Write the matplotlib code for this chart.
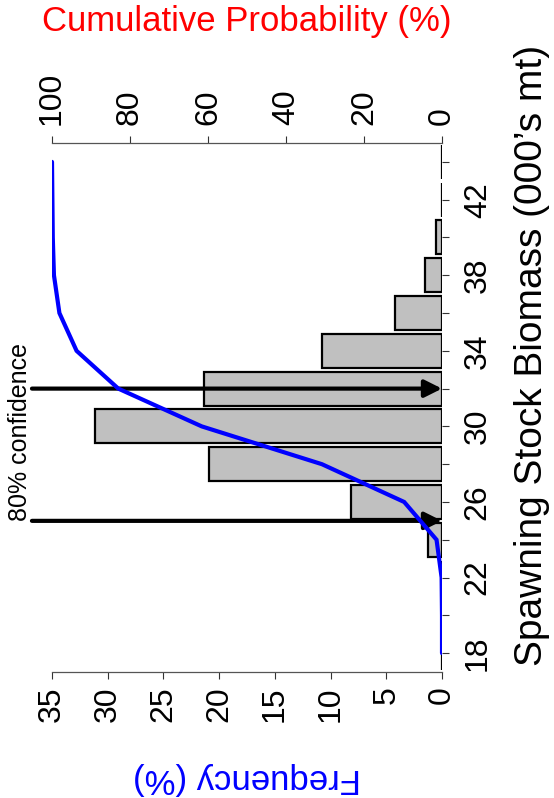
import matplotlib
matplotlib.use("Agg")
import matplotlib.pyplot as plt

plt.rcParams['font.family'] = ['Liberation Sans', 'DejaVu Sans']

# Spawning stock biomass classes (000's mt)
biomass = [18, 20, 22, 24, 26, 28, 30, 32, 34, 36, 38, 40, 42, 44]
# Frequency of each biomass class (%)
frequency = [0, 0, 0, 1.3, 8.2, 20.9, 31.1, 21.4, 10.8, 4.2, 1.5, 0.5, 0, 0]
# Cumulative probability at each class (%)
cumulative = [0, 0, 0.1, 1.4, 9.7, 30.8, 61.6, 83.0, 93.7, 98.1, 99.5, 99.8, 99.9, 100]
# 80% confidence bounds
conf_bounds = [25, 32]

freq_ticks = [0, 5, 10, 15, 20, 25, 30, 35]
cum_ticks = [0, 20, 40, 60, 80, 100]
biomass_labelled = [18, 22, 26, 30, 34, 38, 42]
biomass_minor = [20, 24, 28, 32, 36, 40, 44]

W, H = 554, 798
fig = plt.figure(figsize=(W / 100, H / 100), dpi=100)
left, right, top, bottom = 52, 442, 143, 672
ax = fig.add_axes([left / W, 1 - bottom / H, (right - left) / W, (bottom - top) / H])

ax.barh(biomass, frequency, height=1.8, color='#c0c0c0', edgecolor='black',
        linewidth=1.6, zorder=2)
ax.set_xlim(35, 0)
ax.set_ylim(17, 45)

tick_fs = 23
ax.set_xticks(freq_ticks)
ax.set_xticklabels([str(t) for t in freq_ticks], rotation=90, fontsize=tick_fs)
ax.tick_params(axis='x', direction='out', length=5, width=0.8, pad=5.5,
               color='#333333')

ax.yaxis.tick_right()
ax.set_yticks(biomass_labelled)
ax.set_yticks(biomass_minor, minor=True)
ax.set_yticklabels([str(t) for t in biomass_labelled], rotation=90,
                   fontsize=tick_fs, va='center')
ax.tick_params(axis='y', which='both', direction='out', length=5, width=0.8,
               pad=10, color='#333333')

for side in ['left', 'right', 'top']:
    ax.spines[side].set_visible(False)
ax.spines['bottom'].set_color('#555555')
ax.spines['bottom'].set_linewidth(0.9)

# Confidence arrows
for yb in conf_bounds:
    ax.annotate('', xy=(0, yb), xytext=(36.8, yb), xycoords='data',
                textcoords='data', annotation_clip=False,
                arrowprops=dict(arrowstyle='-|>', color='black', lw=3,
                                mutation_scale=26, shrinkA=0, shrinkB=0),
                zorder=3)
ax.text(37.9, conf_bounds[0], '80% confidence', rotation=90, ha='center',
        va='bottom', fontsize=18, clip_on=False)

# Cumulative probability on the twin axis
ax2 = ax.twiny()
ax2.plot(cumulative, biomass, color='blue', lw=3, solid_capstyle='round',
         solid_joinstyle='miter', zorder=4)
ax2.set_xlim(100, 0)
ax2.set_xticks(cum_ticks)
ax2.set_xticklabels([str(t) for t in cum_ticks], rotation=90, fontsize=tick_fs)
ax2.tick_params(axis='x', direction='out', length=5, width=0.8, pad=8,
                color='#333333')
for side in ['left', 'right', 'bottom']:
    ax2.spines[side].set_visible(False)
ax2.spines['top'].set_color('#555555')
ax2.spines['top'].set_linewidth(0.9)

# Axis titles
fig.text(247 / W, 1 - 22 / H, 'Cumulative Probability (%)', color='red',
         fontsize=25, ha='center', va='center')
fig.text(247 / W, 1 - 779 / H, 'Frequency (%)', color='blue', fontsize=25,
         rotation=180, ha='center', va='center')
fig.text(532 / W, 1 - 355 / H, "Spawning Stock Biomass (000\u2019s mt)",
         fontsize=28, rotation=90, ha='center', va='center')

fig.savefig('out.png', dpi=100)
